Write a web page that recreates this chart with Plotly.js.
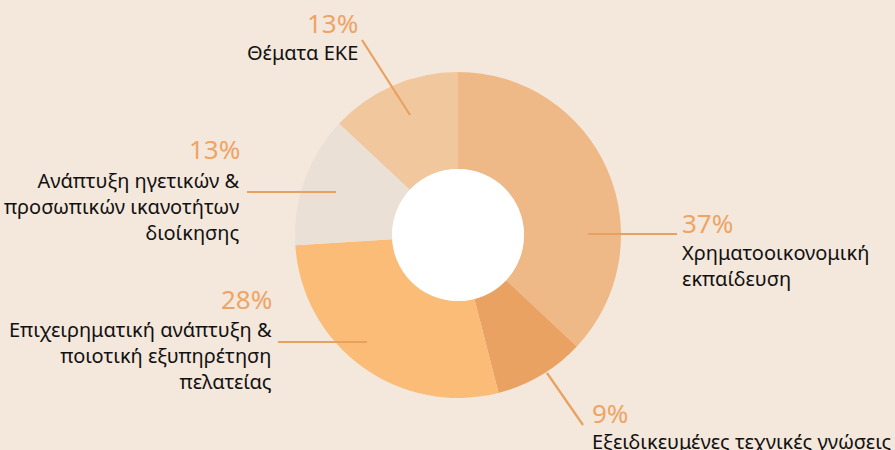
<!DOCTYPE html>
<html>
<head>
<meta charset="utf-8">
<script src="https://cdn.plot.ly/plotly-3.0.1.min.js"></script>
<style>html,body{margin:0;padding:0;background:#f4e7dc;}#chart{width:895px;height:450px;}</style>
</head>
<body>
<div id="chart"></div>
<script>
// ---- data ----
const categories = [
  "Χρηματοοικονομική<br>εκπαίδευση",
  "Εξειδικευμένες τεχνικές γνώσεις",
  "Επιχειρηματική ανάπτυξη &<br>ποιοτική εξυπηρέτηση<br>πελατείας",
  "Ανάπτυξη ηγετικών &<br>προσωπικών ικανοτήτων<br>διοίκησης",
  "Θέματα ΕΚΕ"
];
const values = [37, 9, 28, 13, 13];

// ---- style ----
const colors = ["#efb887", "#e9a262", "#fbbc78", "#ebe0d6", "#f1c79e"];
const W = 895, H = 450;
const cx = 458, cy = 235, R = 163, holeR = 66;
const bg = "#f4e7dc", accent = "#eca566", lineColor = "#e9a160";
// label layout (pixels): leader line [x0,y0,x1,y1], text anchor x, align, pct center y, text center y
const labelLayout = [
  {line:[588,234,677,234], x:681, align:"left",  pctY:223, txtY:265},
  {line:[547,373,583,425], x:591, align:"left",  pctY:413, txtY:441},
  {line:[278,342,367,342], x:273, align:"right", pctY:299, txtY:355},
  {line:[247,192,336,192], x:241, align:"right", pctY:149, txtY:206},
  {line:[362,40,410,115],  x:359, align:"right", pctY:23,  txtY:53}
];
const px = x => x / W, py = y => 1 - y / H;

const trace = {
  type: "pie",
  values: values,
  labels: categories,
  sort: false,
  direction: "clockwise",
  rotation: 0,
  hole: holeR / R,
  marker: {colors: colors, line: {width: 0}},
  textinfo: "none",
  hoverinfo: "none",
  showlegend: false,
  domain: {x: [px(cx - R), px(cx + R)], y: [py(cy + R), py(cy - R)]}
};

const shapes = [{
  type: "circle", xref: "paper", yref: "paper",
  x0: px(cx - holeR), x1: px(cx + holeR), y0: py(cy + holeR), y1: py(cy - holeR),
  fillcolor: "#ffffff", line: {width: 0}, layer: "above"
}];
const annotations = [];
const font = "'Noto Sans', 'DejaVu Sans', sans-serif";
labelLayout.forEach((L, i) => {
  shapes.push({
    type: "line", xref: "paper", yref: "paper",
    x0: px(L.line[0]), y0: py(L.line[1]), x1: px(L.line[2]), y1: py(L.line[3]),
    line: {color: lineColor, width: 2.2}, layer: "above"
  });
  annotations.push({
    xref: "paper", yref: "paper", x: px(L.x), y: py(L.pctY),
    xanchor: L.align, yanchor: "middle", align: L.align, showarrow: false, borderpad: 0,
    text: values[i] + "%", font: {family: font, size: 26, color: accent}
  });
  annotations.push({
    xref: "paper", yref: "paper", x: px(L.x), y: py(L.txtY),
    xanchor: L.align, yanchor: "middle", align: L.align, showarrow: false, borderpad: 0,
    text: categories[i], font: {family: font, size: 20, color: "#111111"}
  });
});

const layout = {
  width: W, height: H,
  margin: {l: 0, r: 0, t: 0, b: 0},
  paper_bgcolor: bg, plot_bgcolor: bg,
  shapes: shapes, annotations: annotations
};
Plotly.newPlot("chart", [trace], layout, {displayModeBar: false, staticPlot: true});
</script>
</body>
</html>
